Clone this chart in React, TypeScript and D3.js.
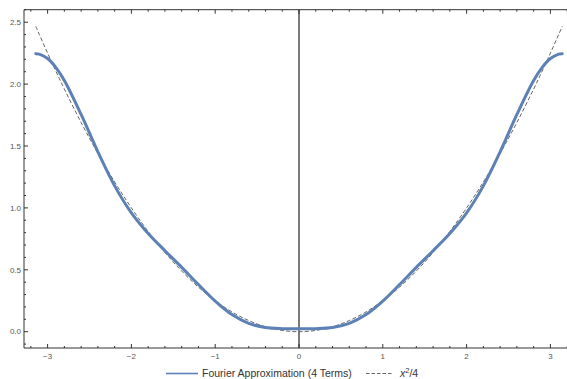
import React from "react";
import * as d3 from "d3";

const W = 567;
const H = 379;

// sample x positions
const xs = [
  -3.1416, -3.1, -3.0, -2.9, -2.8, -2.6, -2.4, -2.2, -2.0, -1.8, -1.6, -1.4, -1.2, -1.0, -0.8, -0.6, -0.4, -0.2,
  0,
  0.2, 0.4, 0.6, 0.8, 1.0, 1.2, 1.4, 1.6, 1.8, 2.0, 2.2, 2.4, 2.6, 2.8, 2.9, 3.0, 3.1, 3.1416,
];

// Fourier approximation (4 terms)
const fourier = [
  2.2461, 2.2425, 2.2065, 2.1335, 2.0289, 1.7546, 1.4526, 1.1779, 0.9594, 0.793, 0.6544, 0.5199, 0.3809, 0.2473, 0.138, 0.0669, 0.0335, 0.0245,
  0.0239,
  0.0245, 0.0335, 0.0669, 0.138, 0.2473, 0.3809, 0.5199, 0.6544, 0.793, 0.9594, 1.1779, 1.4526, 1.7546, 2.0289, 2.1335, 2.2065, 2.2425, 2.2461,
];

// x^2/4
const parabola = [
  2.4674, 2.4025, 2.25, 2.1025, 1.96, 1.69, 1.44, 1.21, 1.0, 0.81, 0.64, 0.49, 0.36, 0.25, 0.16, 0.09, 0.04, 0.01,
  0,
  0.01, 0.04, 0.09, 0.16, 0.25, 0.36, 0.49, 0.64, 0.81, 1.0, 1.21, 1.44, 1.69, 1.96, 2.1025, 2.25, 2.4025, 2.4674,
];

const xMajor = [-3, -2, -1, 0, 1, 2, 3];
const yMajor = [0, 0.5, 1.0, 1.5, 2.0, 2.5];
const seriesNames = ["Fourier Approximation (4 Terms)", "x²/4"];

export default function App() {
  const x = d3.scaleLinear().domain([-3.2816, 3.2816]).range([24, 574]);
  const y = d3.scaleLinear().domain([-0.1317, 2.601]).range([348, 9.7]);

  const xMinor = d3.range(-32, 33, 2).map((v) => v / 10).filter((v) => Math.abs(v - Math.round(v)) > 1e-6);
  const yMinor = d3.range(-1, 27).map((v) => v / 10).filter((v) => Math.abs(v * 2 - Math.round(v * 2)) > 1e-6);

  const line = d3
    .line<number>()
    .x((_, i) => x(xs[i]))
    .y((d) => y(d))
    .curve(d3.curveCatmullRom.alpha(0.5));

  const frame = "#333";
  const tickCol = "#555";
  const font = "Liberation Sans, Arial, sans-serif";
  const top = 9.7;
  const bottom = 348;
  const left = 24;

  return (
    <svg width={W} height={H} style={{ position: "absolute", left: 0, top: 0, background: "#fff" }}>
      <defs>
        <clipPath id="plotclip">
          <rect x={left} y={top} width={W - left} height={bottom - top} />
        </clipPath>
      </defs>
      {/* zero axis */}
      <line x1={x(0)} x2={x(0)} y1={top} y2={bottom} stroke="#222" strokeWidth={1.2} />
      <g clipPath="url(#plotclip)">
        <path d={line(parabola) || ""} fill="none" stroke="#666" strokeWidth={1} strokeDasharray="4,2.2" />
        <path d={line(fourier) || ""} fill="none" stroke="#5E81B5" strokeWidth={3} strokeLinejoin="round" strokeLinecap="round" />
      </g>
      {/* frame */}
      <line x1={left} x2={W} y1={bottom} y2={bottom} stroke={frame} strokeWidth={1} />
      <line x1={left} x2={W} y1={top} y2={top} stroke={frame} strokeWidth={1} />
      <line x1={left} x2={left} y1={top} y2={bottom} stroke={frame} strokeWidth={1} />
      {/* x ticks */}
      {xMajor.map((v) => (
        <g key={"xm" + v}>
          <line x1={x(v)} x2={x(v)} y1={bottom} y2={bottom - 4} stroke={frame} />
          <line x1={x(v)} x2={x(v)} y1={top} y2={top + 4} stroke={frame} />
          <text x={x(v)} y={359} fontSize={8} fill={tickCol} textAnchor="middle" fontFamily={font}>
            {v < 0 ? "−" + Math.abs(v) : String(v)}
          </text>
        </g>
      ))}
      {xMinor.map((v) => (
        <g key={"xn" + v}>
          <line x1={x(v)} x2={x(v)} y1={bottom} y2={bottom - 2} stroke={frame} />
          <line x1={x(v)} x2={x(v)} y1={top} y2={top + 2} stroke={frame} />
        </g>
      ))}
      {/* y ticks */}
      {yMajor.map((v) => (
        <g key={"ym" + v}>
          <line x1={left} x2={left + 4} y1={y(v)} y2={y(v)} stroke={frame} />
          <text x={21} y={y(v) + 2.8} fontSize={8} fill={tickCol} textAnchor="end" fontFamily={font}>
            {v.toFixed(1)}
          </text>
        </g>
      ))}
      {yMinor.map((v) => (
        <line key={"yn" + v} x1={left} x2={left + 2} y1={y(v)} y2={y(v)} stroke={frame} />
      ))}
      {/* legend */}
      <line x1={166} x2={198} y1={373.5} y2={373.5} stroke="#5E81B5" strokeWidth={1.6} />
      <text x={202} y={376.5} fontSize={10.5} fill="#333" fontFamily={font}>
        {seriesNames[0]}
      </text>
      <line x1={366} x2={393} y1={373.5} y2={373.5} stroke="#666" strokeWidth={1} strokeDasharray="3.5,2" />
      <text x={400} y={376.5} fontSize={10.5} fill="#333" fontFamily={font}>
        <tspan fontStyle="italic">x</tspan>
        <tspan dy={-4} fontSize={7.5}>2</tspan>
        <tspan dy={4}>/4</tspan>
      </text>
    </svg>
  );
}
